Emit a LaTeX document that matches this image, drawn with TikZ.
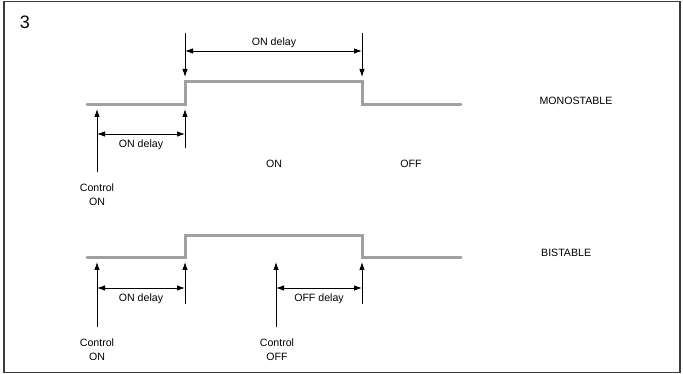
\documentclass[tikz,border=0pt]{standalone}
\usepackage{fontspec}
\setmainfont{Liberation Sans}
\usetikzlibrary{arrows.meta}
\definecolor{signal}{HTML}{A0A0A0}
\definecolor{framegray}{HTML}{3A3A3A}
\newcommand{\labelfont}{\fontsize{10.6}{14}\selectfont}
\newcommand{\numfont}{\fontsize{18}{20}\selectfont}

\begin{document}
\begin{tikzpicture}[x=1pt,y=-1pt,
  wave/.style={draw=signal, line width=3pt, line cap=round},
  marker/.style={draw=black, line width=0.9pt, -{Latex[length=8pt,width=5.5pt]}},
  span/.style={draw=black, line width=0.9pt,
    {Latex[length=8pt,width=5.5pt]}-{Latex[length=8pt,width=5.5pt]}},
  lbl/.style={font=\labelfont, inner sep=1pt, align=center}]
\useasboundingbox (0,0) rectangle (683,374);
\draw[framegray, line width=1.5pt] (4,1.5) rectangle (680,372.5);
\node[font=\numfont] (num) at (25,22) {3};

% monostable
\coordinate (m0) at (87,105);
\coordinate (m1) at (185,105);
\coordinate (m2) at (185,82);
\coordinate (m3) at (362,82);
\coordinate (m4) at (362,105);
\coordinate (m5) at (461,105);
\draw[wave] (m0) -- (m1) -- (m2) -- (m3) -- (m4) -- (m5);

\coordinate (mt1) at (185,33);
\coordinate (mu1) at (185,77);
\coordinate (mt2) at (362,33);
\coordinate (mu2) at (362,77);
\draw[marker] (mt1) -- (mu1);
\draw[marker] (mt2) -- (mu2);
\coordinate (ms1) at (185,51);
\coordinate (ms2) at (362,51);
\draw[span] (ms1) -- (ms2);
\node[lbl] (mondelay) at (274,43) {ON delay};

\coordinate (mc) at (97,172);
\coordinate (mcu) at (97,109);
\coordinate (mb) at (185,148);
\coordinate (mbu) at (185,109);
\draw[marker] (mc) -- (mcu);
\draw[marker] (mb) -- (mbu);
\coordinate (mh1) at (97,134);
\coordinate (mh2) at (185,134);
\draw[span] (mh1) -- (mh2);
\node[lbl] (mdelay) at (141,145) {ON delay};
\node[lbl] (monstate) at (274,164) {ON};
\node[lbl] (moffstate) at (411,164) {OFF};
\node[lbl] (mctrl) at (97,195) {Control\\ON};
\node[lbl] (mono) at (576,101) {MONOSTABLE};

% bistable
\coordinate (b0) at (87,258);
\coordinate (b1) at (185,258);
\coordinate (b2) at (185,236);
\coordinate (b3) at (362,236);
\coordinate (b4) at (362,258);
\coordinate (b5) at (461,258);
\draw[wave] (b0) -- (b1) -- (b2) -- (b3) -- (b4) -- (b5);

\coordinate (bc1) at (97,327);
\coordinate (bc1u) at (97,262);
\coordinate (bb1) at (185,304);
\coordinate (bb1u) at (185,262);
\coordinate (bc2) at (276,327);
\coordinate (bc2u) at (276,262);
\coordinate (bb2) at (362,304);
\coordinate (bb2u) at (362,262);
\foreach \s/\t in {bc1/bc1u, bb1/bb1u, bc2/bc2u, bb2/bb2u}
  \draw[marker] (\s) -- (\t);
\coordinate (bh1) at (97,288);
\coordinate (bh2) at (185,288);
\coordinate (bh3) at (276,288);
\coordinate (bh4) at (362,288);
\draw[span] (bh1) -- (bh2);
\draw[span] (bh3) -- (bh4);
\node[lbl] (bondelay) at (141,299) {ON delay};
\node[lbl] (boffdelay) at (319,299) {OFF delay};
\node[lbl] (bctrlon) at (97,350) {Control\\ON};
\node[lbl] (bctrloff) at (277,350) {Control\\OFF};
\node[lbl, anchor=west] (bi) at (540,253) {BISTABLE};
\end{tikzpicture}
\end{document}
